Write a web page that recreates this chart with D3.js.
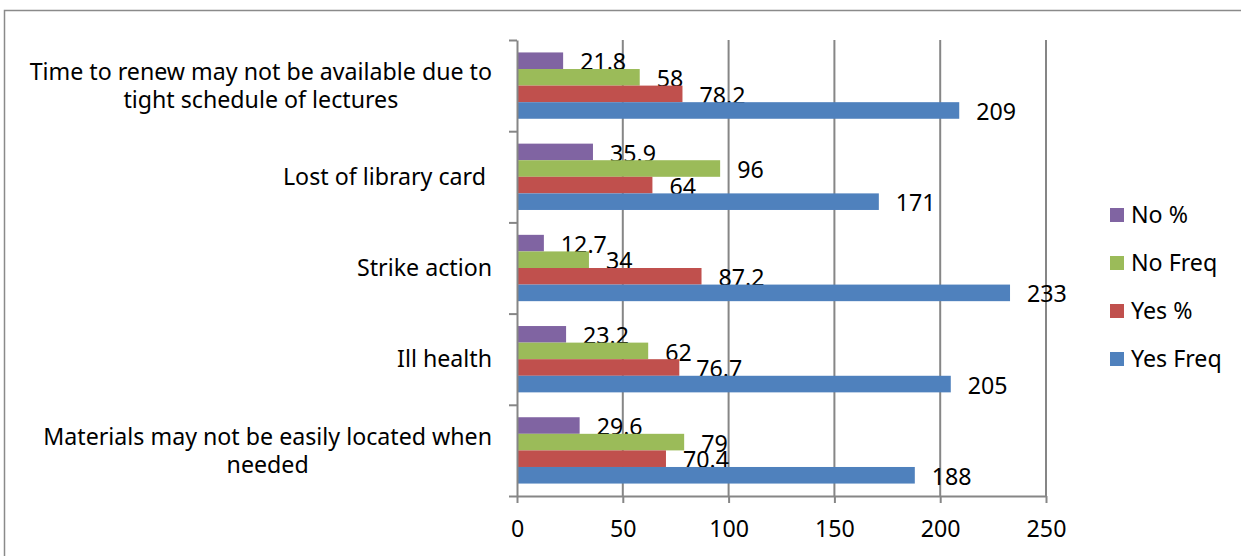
<!DOCTYPE html>
<html>
<head>
<meta charset="utf-8">
<script src="https://cdn.jsdelivr.net/npm/d3@7"></script>
<style>
  body { margin: 0; background: #fff; }
  svg text { font-family: "Noto Sans", sans-serif; fill: #000; }
</style>
</head>
<body>
<div id="mainDiv"></div>
<script>
'use strict';

// categories top to bottom, "\n" = where Excel wrapped the label
var categories = [
    'Time to renew may not be available due to\ntight schedule of lectures',
    'Lost of library card ',
    'Strike action',
    'Ill health',
    'Materials may not be easily located when\nneeded'
];
var seriesNames = ['No %', 'No Freq', 'Yes %', 'Yes Freq'];
var noPct   = [21.8, 35.9, 12.7, 23.2, 29.6];
var noFreq  = [58, 96, 34, 62, 79];
var yesPct  = [78.2, 64, 87.2, 76.7, 70.4];
var yesFreq = [209, 171, 233, 205, 188];
var xTicks  = [0, 50, 100, 150, 200, 250];
var colors  = ['#8064A2', '#9BBB59', '#C0504D', '#4F81BD'];

var myApp = {};
myApp.w = 1241;
myApp.h = 556;
myApp.plot = {left: 517, right: 1046, top: 40, bottom: 496};
myApp.fontSize = 23.2;

myApp.run = function()
{
    var p = myApp.plot;
    var values = [noPct, noFreq, yesPct, yesFreq];

    var svg = d3.select('#mainDiv').append('svg')
        .attr('width', myApp.w)
        .attr('height', myApp.h);

    // outer chart frame
    svg.append('rect')
        .attr('x', 4.5).attr('y', 10.5)
        .attr('width', 1260).attr('height', 600)
        .attr('fill', '#fff')
        .attr('stroke', '#8a8a8a')
        .attr('stroke-width', 1.5);

    var x = d3.scaleLinear().domain([0, 250]).range([p.left, p.right]);
    var y0 = d3.scaleBand().domain(categories).range([p.top, p.bottom]);
    var y1 = d3.scaleBand().domain(seriesNames)
        .range([0, y0.bandwidth()])
        .paddingInner(0).paddingOuter(0.75);

    // vertical gridlines
    svg.append('g').selectAll('line')
        .data(xTicks.slice(1))
        .enter().append('line')
        .attr('x1', function(d){ return x(d); })
        .attr('x2', function(d){ return x(d); })
        .attr('y1', p.top).attr('y2', p.bottom)
        .attr('stroke', '#868686')
        .attr('stroke-width', 2);

    // bars
    var groups = svg.append('g').selectAll('g')
        .data(categories)
        .enter().append('g')
        .attr('transform', function(d){ return 'translate(0,' + y0(d) + ')'; });

    groups.each(function(cat, ci) {
        var g = d3.select(this);
        seriesNames.forEach(function(s, si) {
            var v = values[si][ci];
            g.append('rect')
                .attr('x', x(0))
                .attr('y', y1(s))
                .attr('width', x(v) - x(0))
                .attr('height', y1.bandwidth())
                .attr('fill', colors[si]);
            g.append('text')
                .attr('x', x(v) + 17)
                .attr('y', y1(s) + y1.bandwidth() / 2 + 1.5)
                .attr('dy', '0.35em')
                .style('font-size', myApp.fontSize + 'px')
                .text(v);
        });
    });

    // x axis
    var xAxis = svg.append('g')
        .attr('transform', 'translate(0,' + p.bottom + ')')
        .call(d3.axisBottom(x).tickValues(xTicks).tickSize(7).tickSizeOuter(0));
    xAxis.select('.domain').attr('stroke', '#868686').attr('stroke-width', 2);
    xAxis.selectAll('.tick line').attr('stroke', '#868686').attr('stroke-width', 2);
    xAxis.selectAll('.tick text')
        .attr('y', 33).attr('dy', '0.35em')
        .style('font-size', myApp.fontSize + 'px')
        .style('font-family', '"Noto Sans", sans-serif')
        .attr('fill', '#000');

    // category axis: ticks sit on the band boundaries
    var yEdges = d3.scaleLinear().domain([0, categories.length]).range([p.top, p.bottom]);
    var yAxis = svg.append('g')
        .attr('transform', 'translate(' + p.left + ',0)')
        .call(d3.axisLeft(yEdges).tickValues(d3.range(categories.length + 1))
            .tickFormat('').tickSize(8).tickSizeOuter(0));
    yAxis.select('.domain').attr('stroke', '#868686').attr('stroke-width', 2);
    yAxis.selectAll('.tick line').attr('stroke', '#868686').attr('stroke-width', 2);

    // category labels, right aligned block, wrapped lines centred inside it
    var labelRight = p.left - 25;
    var lineH = 28;
    categories.forEach(function(cat) {
        var lines = cat.split('\n');
        var t = svg.append('text')
            .style('font-size', myApp.fontSize + 'px')
            .style('white-space', 'pre');
        var cy = y0(cat) + y0.bandwidth() / 2 - (lines.length - 1) * lineH / 2;
        var spans = lines.map(function(l, i) {
            return t.append('tspan')
                .attr('y', cy + i * lineH)
                .attr('dy', '0.35em')
                .text(l);
        });
        if (lines.length === 1) {
            t.attr('text-anchor', 'end');
            spans[0].attr('x', labelRight);
        } else {
            var maxW = d3.max(spans, function(s){ return s.node().getComputedTextLength(); });
            t.attr('text-anchor', 'middle');
            spans.forEach(function(s){ s.attr('x', labelRight - maxW / 2); });
        }
    });

    // legend
    var legend = svg.append('g').selectAll('g')
        .data(seriesNames)
        .enter().append('g')
        .attr('transform', function(d, i){ return 'translate(1110,' + (215 + i * 48) + ')'; });
    legend.append('rect')
        .attr('x', 0).attr('y', -7)
        .attr('width', 14).attr('height', 14)
        .attr('fill', function(d, i){ return colors[i]; });
    legend.append('text')
        .attr('x', 21).attr('y', 0).attr('dy', '0.35em')
        .style('font-size', myApp.fontSize + 'px')
        .text(function(d){ return d; });
}

window.onload = myApp.run;
</script>
</body>
</html>
